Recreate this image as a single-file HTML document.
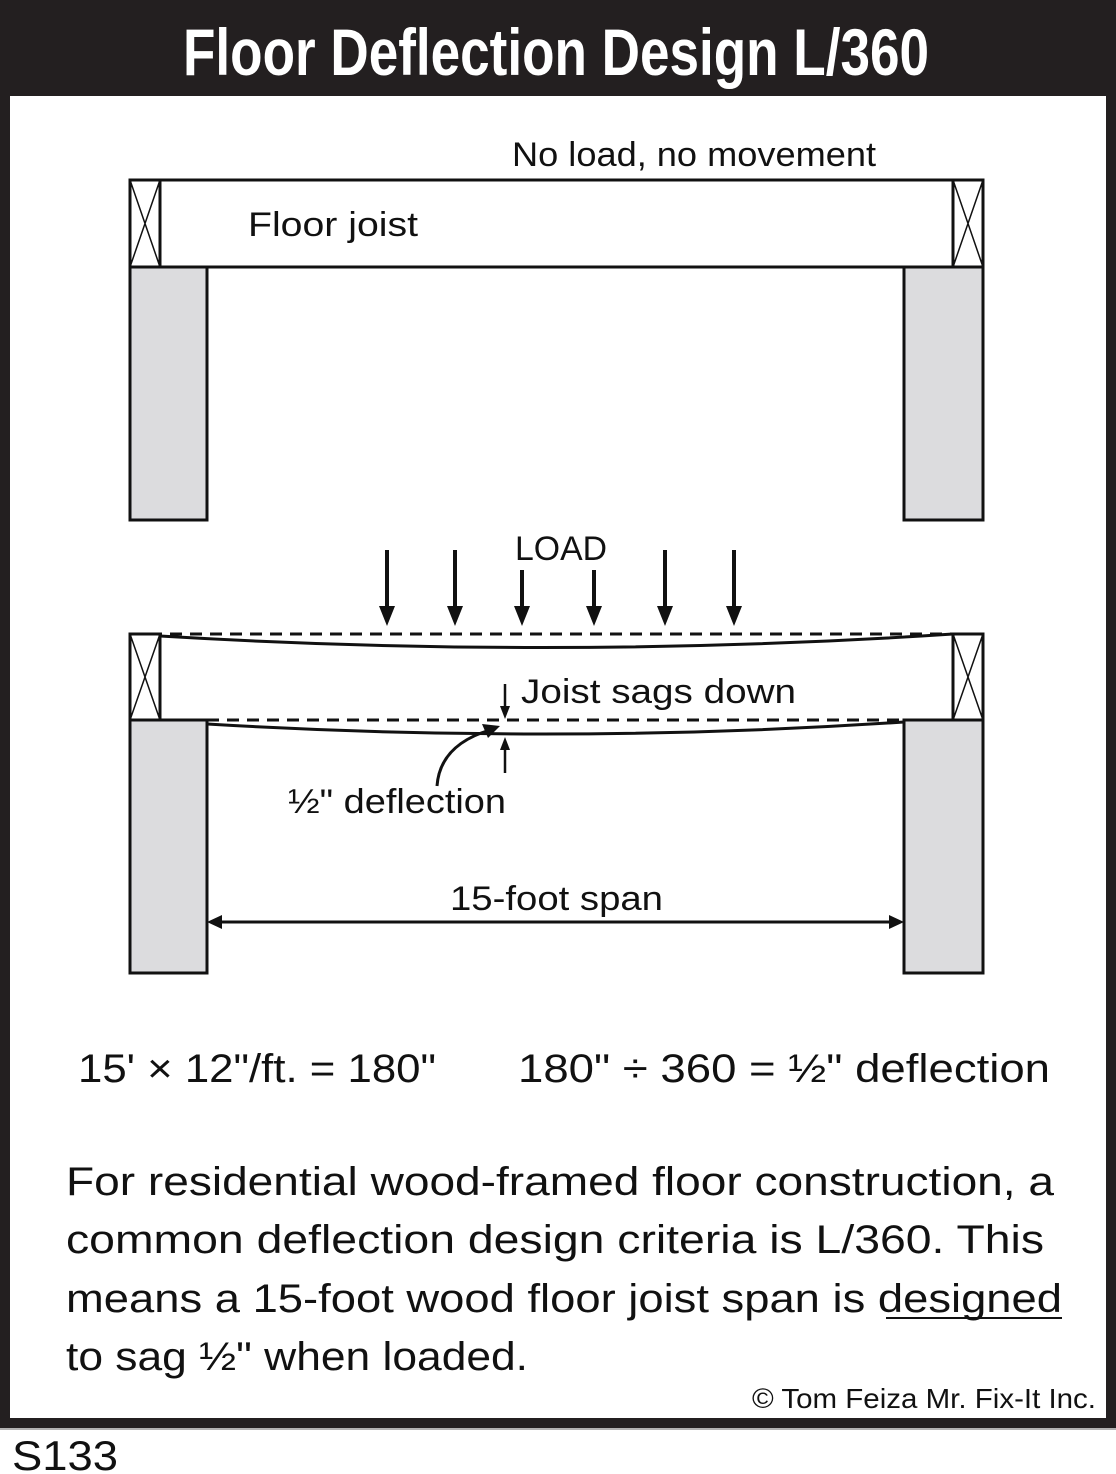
<!DOCTYPE html>
<html><head><meta charset="utf-8"><style>
html,body{margin:0;padding:0;background:#fff;}
svg{display:block;}
text{font-family:"Liberation Sans",sans-serif;fill:#111;}
</style></head><body>
<svg width="1116" height="1474" viewBox="0 0 1116 1474" xmlns="http://www.w3.org/2000/svg">
<rect x="0" y="0" width="1116" height="1428" fill="#231f20"/>
<rect x="10" y="96" width="1096" height="1322" fill="#fff"/>
<line x1="0" y1="1429" x2="1116" y2="1429" stroke="#999" stroke-width="1.5"/>
<text x="556" y="75" text-anchor="middle" font-size="66" font-weight="bold" textLength="746" lengthAdjust="spacingAndGlyphs" style="fill:#fff">Floor Deflection Design L/360</text>

<g stroke="#111" stroke-width="3" fill="none">
<rect x="130" y="180" width="853" height="87" fill="#fff"/>
<line x1="160" y1="180" x2="160" y2="267"/>
<line x1="953" y1="180" x2="953" y2="267"/>
<path d="M130 180 L160 267 M160 180 L130 267 M953 180 L983 267 M983 180 L953 267" stroke-width="1.5"/>
<rect x="130" y="267" width="77" height="253" fill="#dcdcde"/>
<rect x="904" y="267" width="79" height="253" fill="#dcdcde"/>

<line x1="130" y1="634" x2="983" y2="634" stroke-dasharray="12,8"/>
<line x1="207" y1="720" x2="904" y2="720" stroke-dasharray="12,8"/>
<path d="M160 636 Q560 660 953 634"/>
<path d="M207 724 Q560 745 904 722"/>
<rect x="130" y="634" width="30" height="86"/>
<rect x="953" y="634" width="30" height="86"/>
<path d="M130 634 L160 720 M160 634 L130 720 M953 634 L983 720 M983 634 L953 720" stroke-width="1.5"/>
<rect x="130" y="720" width="77" height="253" fill="#dcdcde"/>
<rect x="904" y="720" width="79" height="253" fill="#dcdcde"/>

<g stroke-width="4">
<line x1="387" y1="550" x2="387" y2="610"/>
<line x1="455" y1="550" x2="455" y2="610"/>
<line x1="522" y1="570" x2="522" y2="610"/>
<line x1="594" y1="570" x2="594" y2="610"/>
<line x1="665" y1="550" x2="665" y2="610"/>
<line x1="734" y1="550" x2="734" y2="610"/>
</g>
<line x1="505" y1="684" x2="505" y2="708" stroke-width="2.5"/>
<line x1="505" y1="773" x2="505" y2="748" stroke-width="2.5"/>
<path d="M437 786 Q440 745 490 730" stroke-width="3"/>
<line x1="220" y1="922" x2="892" y2="922"/>
</g>
<g fill="#111">
<path d="M379 606 L395 606 L387 626 Z"/>
<path d="M447 606 L463 606 L455 626 Z"/>
<path d="M514 606 L530 606 L522 626 Z"/>
<path d="M586 606 L602 606 L594 626 Z"/>
<path d="M657 606 L673 606 L665 626 Z"/>
<path d="M726 606 L742 606 L734 626 Z"/>
<path d="M500 706 L510 706 L505 719 Z"/>
<path d="M500 750 L510 750 L505 737 Z"/>
<path d="M482 724 L500 726 L488 738 Z"/>
<path d="M207 922 L222 915 L222 929 Z"/>
<path d="M904 922 L889 915 L889 929 Z"/>
</g>

<g font-size="34">
<text x="512" y="166" textLength="364" lengthAdjust="spacingAndGlyphs">No load, no movement</text>
<text x="248" y="236" textLength="170" lengthAdjust="spacingAndGlyphs">Floor joist</text>
<text x="515" y="560" textLength="92" lengthAdjust="spacingAndGlyphs">LOAD</text>
<text x="521" y="703" textLength="275" lengthAdjust="spacingAndGlyphs">Joist sags down</text>
<text x="288" y="813" textLength="218" lengthAdjust="spacingAndGlyphs">½" deflection</text>
<text x="450" y="910" textLength="213" lengthAdjust="spacingAndGlyphs">15-foot span</text>
</g>
<g font-size="40">
<text x="78" y="1082" textLength="358" lengthAdjust="spacingAndGlyphs">15' × 12"/ft. = 180"</text>
<text x="518" y="1082" textLength="532" lengthAdjust="spacingAndGlyphs">180" ÷ 360 = ½" deflection</text>
<text x="66" y="1195" textLength="988" lengthAdjust="spacingAndGlyphs">For residential wood-framed floor construction, a</text>
<text x="66" y="1253" textLength="978" lengthAdjust="spacingAndGlyphs">common deflection design criteria is L/360. This</text>
<text x="66" y="1312" textLength="996" lengthAdjust="spacingAndGlyphs">means a 15-foot wood floor joist span is designed</text>
<text x="66" y="1370" textLength="462" lengthAdjust="spacingAndGlyphs">to sag ½" when loaded.</text>
</g>
<line x1="886" y1="1318" x2="1062" y2="1318" stroke="#111" stroke-width="2"/>
<text x="752" y="1408" font-size="28" textLength="344" lengthAdjust="spacingAndGlyphs">© Tom Feiza Mr. Fix-It Inc.</text>
<text x="12" y="1470" font-size="42" textLength="106" lengthAdjust="spacingAndGlyphs">S133</text>
</svg>
</body></html>
